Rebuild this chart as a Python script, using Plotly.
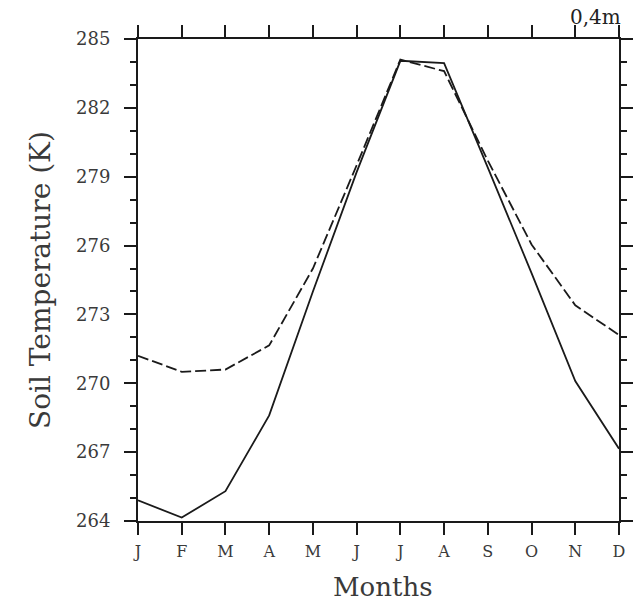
import plotly.graph_objects as go

months = ["J", "F", "M", "A", "M", "J", "J", "A", "S", "O", "N", "D"]
x_idx = list(range(12))
solid_vals = [264.9, 264.15, 265.3, 268.6, 274.0, 279.2, 284.05, 283.95, 279.4, 274.8, 270.1, 267.15]
dashed_vals = [271.2, 270.5, 270.6, 271.65, 275.0, 279.5, 284.1, 283.6, 279.7, 276.05, 273.4, 272.1]
y_ticks = [264, 267, 270, 273, 276, 279, 282, 285]

font_fam = "DejaVu Serif, Liberation Serif, serif"
txt_col = "#3a3a3a"
line_col = "#1a1a1a"

fig = go.Figure()
fig.add_trace(go.Scatter(x=x_idx, y=solid_vals, mode="lines",
                         line=dict(color=line_col, width=1.8), showlegend=False))
fig.add_trace(go.Scatter(x=x_idx, y=dashed_vals, mode="lines",
                         line=dict(color=line_col, width=1.8, dash="11px,4px"), showlegend=False))

fig.update_layout(
    width=633, height=606,
    margin=dict(l=138, r=14, t=39, b=85, autoexpand=False),
    paper_bgcolor="white", plot_bgcolor="white",
    font=dict(family=font_fam, color=txt_col),
    xaxis=dict(
        range=[0, 11], tickmode="array", tickvals=x_idx, ticktext=months,
        showline=True, linecolor=line_col, linewidth=2, mirror="ticks",
        ticks="outside", ticklen=12, tickwidth=2, tickcolor=line_col,
        showgrid=False, zeroline=False, automargin=False,
        ticklabelstandoff=3,
        tickfont=dict(size=16, family=font_fam, color=txt_col),
    ),
    yaxis=dict(
        range=[264, 285], tickmode="array", tickvals=y_ticks,
        ticktext=[str(v) for v in y_ticks],
        showline=True, linecolor=line_col, linewidth=2, mirror="ticks",
        ticks="outside", ticklen=12, tickwidth=2, tickcolor=line_col,
        minor=dict(dtick=1, tick0=264, ticks="outside", ticklen=6, tickwidth=1.5,
                   tickcolor=line_col, showgrid=False),
        showgrid=False, zeroline=False, automargin=False,
        ticklabelstandoff=10,
        tickfont=dict(size=18, family=font_fam, color=txt_col),
    ),
    annotations=[
        dict(text="0,4m", xref="paper", yref="paper", x=1.0, y=1.0,
             xanchor="right", yanchor="bottom", xshift=4, yshift=8, showarrow=False,
             font=dict(size=20, family=font_fam, color="#222")),
        dict(text="Soil Temperature (K)", xref="paper", yref="paper",
             x=-(138 - 40) / 481, y=0.5, xanchor="center", yanchor="middle",
             textangle=-90, showarrow=False,
             font=dict(size=28, family=font_fam, color=txt_col)),
        dict(text="Months", xref="paper", yref="paper",
             x=0.51, y=-(604 - 521) / 482, xanchor="center", yanchor="bottom",
             showarrow=False,
             font=dict(size=26, family=font_fam, color=txt_col)),
    ],
)

fig.write_html("out.html")
